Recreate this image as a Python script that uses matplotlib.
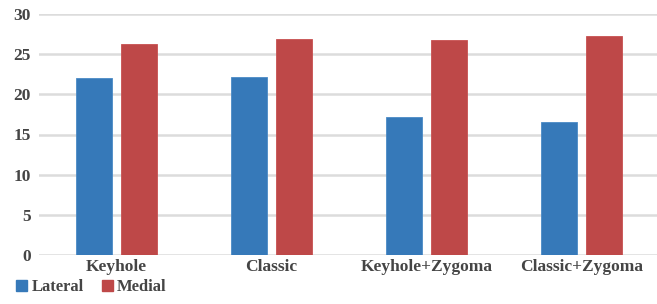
import matplotlib.pyplot as plt
import numpy as np
from matplotlib.patches import Patch

categories = ["Keyhole", "Classic", "Keyhole+Zygoma", "Classic+Zygoma"]
lateral = [22.0, 22.1, 17.2, 16.6]
medial = [26.3, 26.9, 26.8, 27.3]
yticks = [0, 5, 10, 15, 20, 25, 30]

blue = "#3679b9"
red = "#be4848"
textc = "#454545"
font = "Liberation Serif"

fig = plt.figure(figsize=(6.57, 3.04), dpi=100)
ax = fig.add_axes([39/657, 1-255/304, 620/657, 241/304])
x = np.arange(len(categories))
w = 0.232
off = 0.143
ax.bar(x - off, lateral, width=w, color=blue, edgecolor="#4a8ac6", linewidth=0.6, zorder=3)
ax.bar(x + off, medial, width=w, color=red, edgecolor="#c85050", linewidth=0.6, zorder=3)
ax.set_xlim(-0.5, 3.5)
ax.set_ylim(0, 30)
ax.set_yticks(yticks)
ax.yaxis.grid(True, color="#dcdcdc", linewidth=1.8, zorder=0)
ax.set_axisbelow(True)
for s in ax.spines.values():
    s.set_visible(False)
ax.tick_params(axis="both", length=0, colors=textc, labelsize=12.5)
ax.tick_params(axis="y", pad=6)
ax.tick_params(axis="x", pad=3)
ax.set_xticks(x)
ax.set_xticklabels(categories)
for lab in ax.get_xticklabels() + ax.get_yticklabels():
    lab.set_fontfamily(font)
    lab.set_fontweight("bold")
    lab.set_color(textc)

handles = [Patch(color=blue, label="Lateral"), Patch(color=red, label="Medial")]
leg = fig.legend(handles=handles, loc="lower left", bbox_to_anchor=(0.002, -0.02), ncol=2,
                 frameon=False, handlelength=0.65, handleheight=0.65, handletextpad=0.25,
                 columnspacing=1.1, prop={"family": font, "size": 12, "weight": "bold"})
for t in leg.get_texts():
    t.set_color(textc)

fig.savefig("out.png", dpi=100)
